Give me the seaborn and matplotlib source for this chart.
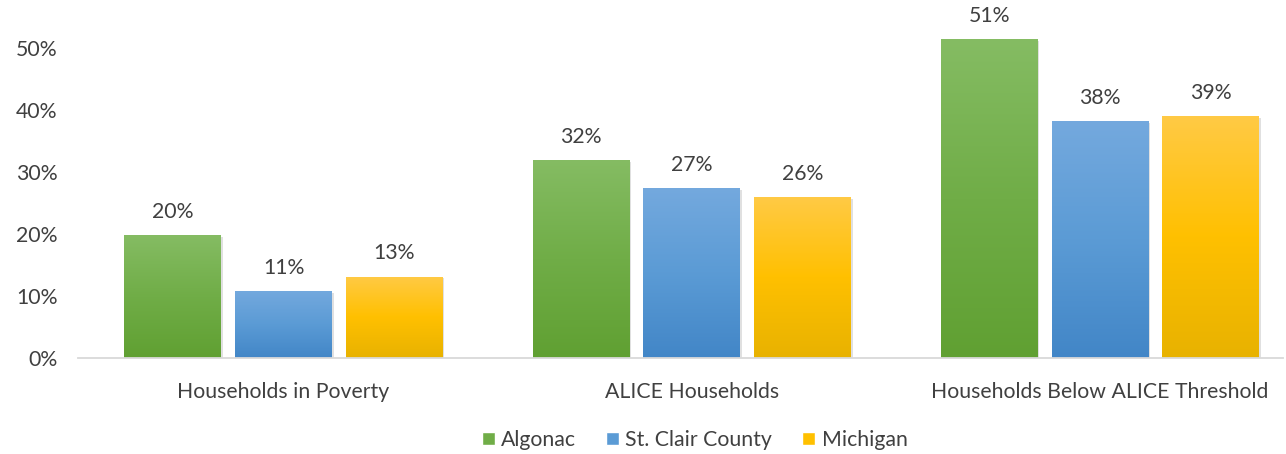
import numpy as np
import pandas as pd
import seaborn as sns
import matplotlib.pyplot as plt
import matplotlib.patheffects as pe
from matplotlib.colors import LinearSegmentedColormap
from matplotlib.patches import Patch

sns.set_style("white")
plt.rcParams['font.family'] = ['Lato', 'DejaVu Sans']

# values (percent)
categories = ['Households in Poverty', 'ALICE Households', 'Households Below ALICE Threshold']
series = ['Algonac', 'St. Clair County', 'Michigan']
algonac = [19.8, 31.9, 51.3]
st_clair = [10.8, 27.4, 38.1]
michigan = [13.1, 25.9, 38.9]
yticks = [0, 10, 20, 30, 40, 50]

# gradient colours per series: top, middle, bottom
grad = {
    'Algonac': ['#85bc63', '#70ad47', '#60a032'],
    'St. Clair County': ['#74a9de', '#5b9bd5', '#4286c7'],
    'Michigan': ['#ffca45', '#ffc000', '#e8b200'],
}
solid = {'Algonac': '#70ad47', 'St. Clair County': '#5b9bd5', 'Michigan': '#ffc000'}
text_col = '#404040'
fs = 15.3

df = pd.DataFrame({'Category': categories, 'Algonac': algonac,
                   'St. Clair County': st_clair, 'Michigan': michigan})
df_melted = df.melt(id_vars='Category', var_name='Area', value_name='Value')

fig = plt.figure(figsize=(12.86, 4.54), dpi=100)
W, H = 1286, 454
y0, px_per = 358, 6.21
ymax = y0 / px_per
left, right = 78.5, 1283
ax = fig.add_axes([left / W, (H - y0) / H, (right - left) / W, y0 / H])

sns.barplot(data=df_melted, x='Category', y='Value', hue='Area', palette=solid,
            width=0.814, gap=0.126, ax=ax, legend=False)

# gradient fill inside each bar, light shadow like the original
for cont, name in zip(ax.containers, series):
    cmap = LinearSegmentedColormap.from_list(name, grad[name][::-1])
    for bar, val in zip(cont.patches, cont.datavalues):
        x, y = bar.get_x(), bar.get_y()
        w, h = bar.get_width(), bar.get_height()
        img = ax.imshow(np.linspace(0, 1, 256).reshape(-1, 1), cmap=cmap, origin='lower',
                        extent=[x, x + w, y, y + h], aspect='auto', zorder=bar.get_zorder())
        img.set_clip_path(bar)
        bar.set_facecolor('none')
        bar.set_path_effects([pe.SimplePatchShadow(offset=(1.2, -1.2), shadow_rgbFace='#000000', alpha=0.12)])
        ax.annotate(f'{val:.0f}%', (x + w / 2, y + h), xytext=(0, 9.5), textcoords='offset points',
                    ha='center', va='bottom', fontsize=fs, color=text_col, annotation_clip=False)
ax.set_xlim(-0.502, 2.448)
ax.set_ylim(0, ymax)

ax.set_yticks(yticks)
ax.set_yticklabels([f'{t}%' for t in yticks])
ax.set_xlabel('')
ax.set_ylabel('')
ax.tick_params(axis='y', length=0, pad=15, labelsize=fs, labelcolor=text_col)
ax.tick_params(axis='x', length=0, pad=17, labelsize=fs, labelcolor=text_col)
for s in ['top', 'right', 'left']:
    ax.spines[s].set_visible(False)
ax.spines['bottom'].set_color('#d9d9d9')
ax.spines['bottom'].set_linewidth(1.3)
ax.grid(False)

handles = [Patch(facecolor=solid[s], label=s) for s in series]
fig.legend(handles=handles, loc='center', bbox_to_anchor=(694.5 / W, (H - 440) / H), ncol=3,
           frameon=False, fontsize=fs, handlelength=0.62, handleheight=0.62,
           handletextpad=0.3, columnspacing=1.4, labelcolor=text_col)

fig.savefig('out.png', dpi=100)
